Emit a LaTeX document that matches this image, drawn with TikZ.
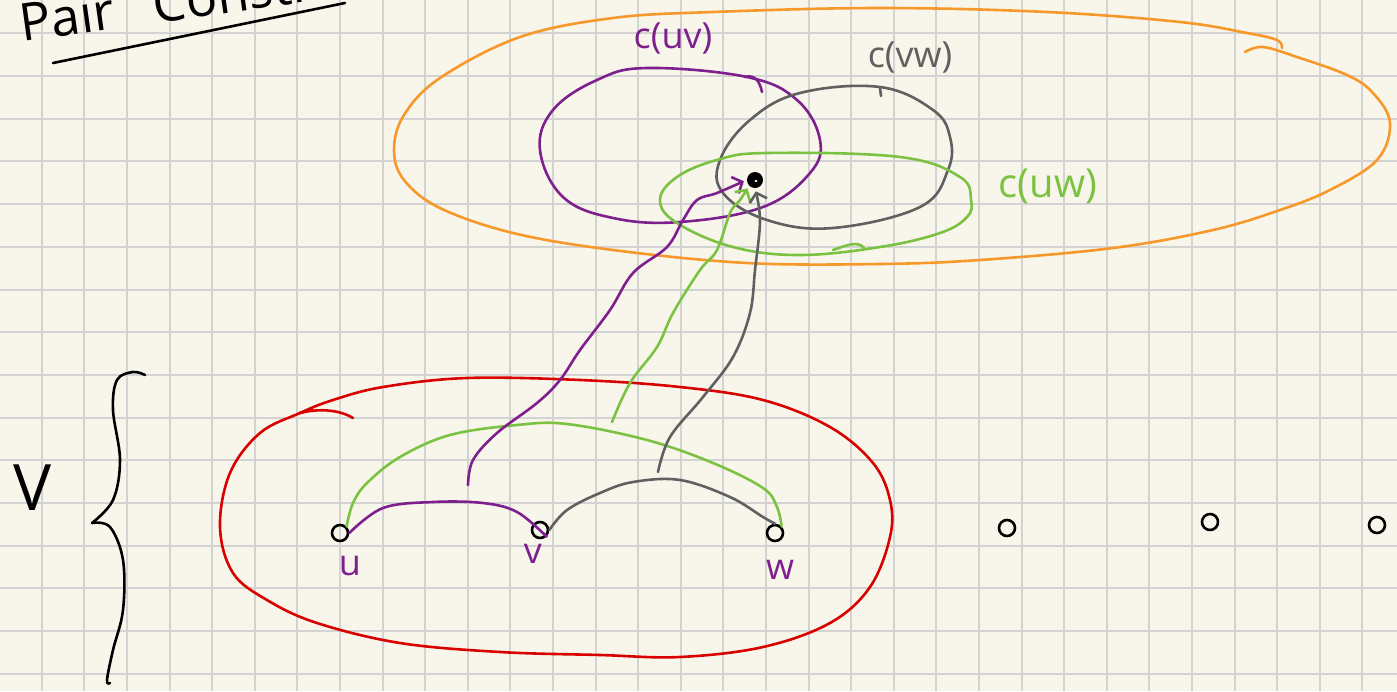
\documentclass[tikz,border=0pt]{standalone}
\usepackage{fontspec}
\setmainfont{Open Sans}
\usetikzlibrary{arrows.meta}
\definecolor{paper}{HTML}{F8F6EB}
\definecolor{gridc}{HTML}{D3D3D3}
\definecolor{pur}{HTML}{7E1F8E}
\definecolor{gry}{HTML}{606060}
\definecolor{grn}{HTML}{7CC242}
\definecolor{org}{HTML}{F7982B}
\definecolor{rd}{HTML}{D90000}
\begin{document}
\begin{tikzpicture}[x=0.5pt,y=-0.5pt,
  ink/.style={line width=1.3pt, line cap=round, line join=round},
  vtx/.style={circle, draw=black, line width=1.3pt, minimum size=8pt, inner sep=0pt},
  lab/.style={font=\fontsize{18}{20}\selectfont, inner sep=0pt},
  barb/.style={-{Straight Barb[length=4pt,width=9pt,line width=1.3pt]}, shorten >=1.5pt},
]
\useasboundingbox (0,0) rectangle (1397,691);
\fill[paper] (0,0) rectangle (1397,691);
\foreach \i in {0,...,31} \draw[gridc, line width=1pt] ({41.7+42.6*\i},0) -- ({41.7+42.6*\i},691);
\foreach \j in {0,...,15} \draw[gridc, line width=1pt] (0,{33.3+42.7*\j}) -- (1397,{33.3+42.7*\j});

% title
\node[font=\fontsize{26}{28}\selectfont, anchor=base west, rotate=8, inner sep=0pt] (title) at (22,42) {Pair\hspace{20pt}Constr};
\draw[black, ink] (53,63) -- (345,3);

% orange set
\draw[org, ink] plot[smooth, tension=0.6] coordinates {(1245,52) (1263,47) (1297,57) (1347,75) (1373,93) (1390,123) (1377,160) (1330,190) (1280,210) (1213,230) (1113,248) (980,260) (880,264) (747,263) (613,250) (513,233) (440,208) (404,180) (394,150) (404,115) (440,78) (520,37) (613,18) (713,12) (880,8) (1047,12) (1180,22) (1247,33) (1277,40) (1282,48)};

% purple c(uv)
\draw[pur, ink] plot[smooth cycle, tension=0.65] coordinates {(647,68) (747,77) (797,100) (820,140) (810,173) (763,207) (680,222) (613,218) (563,197) (540,150) (553,110) (597,80)};
\draw[pur, ink] (745,77) .. controls (755,74) and (760,82) .. (762,92);

% gray c(vw)
\draw[gry, ink] plot[smooth cycle, tension=0.65] coordinates {(880,87) (933,110) (950,137) (948,170) (920,207) (833,228) (767,220) (723,193) (720,160) (750,120) (800,93)};
\draw[gry, ink] (880,88) -- (881,96);

% green c(uw)
\draw[grn, ink] plot[smooth cycle, tension=0.65] coordinates {(767,153) (900,157) (960,177) (971,200) (967,217) (940,233) (880,247) (800,255) (733,247) (677,223) (660,200) (677,177) (717,160)};
\draw[grn, ink] (833,250) .. controls (845,246) and (858,240) .. (864,248);

% red V
\draw[rd, ink] plot[smooth cycle, tension=0.6] coordinates {(300,413) (260,433) (230,473) (220,527) (233,573) (267,600) (317,623) (400,643) (500,652) (600,655) (680,657) (763,647) (830,623) (870,587) (890,537) (890,500) (873,463) (830,427) (763,400) (680,387) (580,380) (467,378) (383,387) (333,400)};
\draw[rd, ink] (300,413) .. controls (320,408) and (340,410) .. (353,418);
\draw[rd, ink] (300,413) -- (312,409);

% brace
\draw[black, ink] plot[smooth, tension=0.6] coordinates {(145,375) (133,372) (117,380) (113,410) (120,460) (113,500) (92,523)};
\draw[black, ink] plot[smooth, tension=0.6] coordinates {(92,523) (110,527) (123,560) (123,610) (113,650) (107,680) (110,683)};
\node[font=\fontsize{32}{34}\selectfont, inner sep=0pt] (lV) at (33,488) {V};

% vertices
\node[vtx] (u) at (340,533) {};
\node[vtx] (v) at (540,530) {};
\node[vtx] (w) at (775,533) {};
\node[vtx] (x1) at (1007,528) {};
\node[vtx] (x2) at (1210,522) {};
\node[vtx] (x3) at (1377,525) {};

\node[lab, pur] (lu) at (350,566) {u};
\node[lab, pur] (lv) at (533,554) {v};
\node[lab, pur] (lw) at (780,570) {w};

% edges
\draw[grn, ink] plot[smooth, tension=0.6] coordinates {(u.north east) (353,503) (367,483) (400,457) (450,435) (517,425) (567,424) (647,440) (713,463) (763,488) (777,507) (w.north east)};
\draw[pur, ink] plot[smooth, tension=0.6] coordinates {(u.east) (383,508) (433,502) (483,503) (517,512) (v.south east)};
\draw[gry, ink] plot[smooth, tension=0.6] coordinates {(v.east) (567,510) (600,493) (633,482) (680,480) (730,497) (763,517) (w.north)};

% the common colour
\node[circle, fill=black, minimum size=8pt, inner sep=0pt] (dot) at (755,180) {};
\fill[white] (756,181) ellipse (1.6 and 1.1);

% connectors to the colour
\coordinate (pstart) at (468,485);
\coordinate (gstart) at (612,422);
\coordinate (kstart) at (658,472);
\draw[pur, ink, barb] plot[smooth, tension=0.6] coordinates {(pstart) (473,460) (497,433) (537,403) (560,380) (580,350) (610,310) (633,273) (667,247) (683,220) (697,200) (717,193) (dot.west)};
\draw[grn, ink, barb] plot[smooth, tension=0.6] coordinates {(gstart) (630,383) (657,347) (673,313) (700,270) (717,250) (730,213) (740,200) (dot.south west)};
\draw[gry, ink, barb] plot[smooth, tension=0.6] coordinates {(kstart) (670,437) (703,397) (733,357) (750,313) (755,270) (760,220) (dot.south)};

% labels of the colour classes
\node[lab, pur] (luv) at (673,38) {c(uv)};
\node[lab, gry] (lvw) at (910,57) {c(vw)};
\node[lab, grn, font=\fontsize{20}{22}\selectfont] (luw) at (1048,186) {c(uw)};
\end{tikzpicture}
\end{document}
